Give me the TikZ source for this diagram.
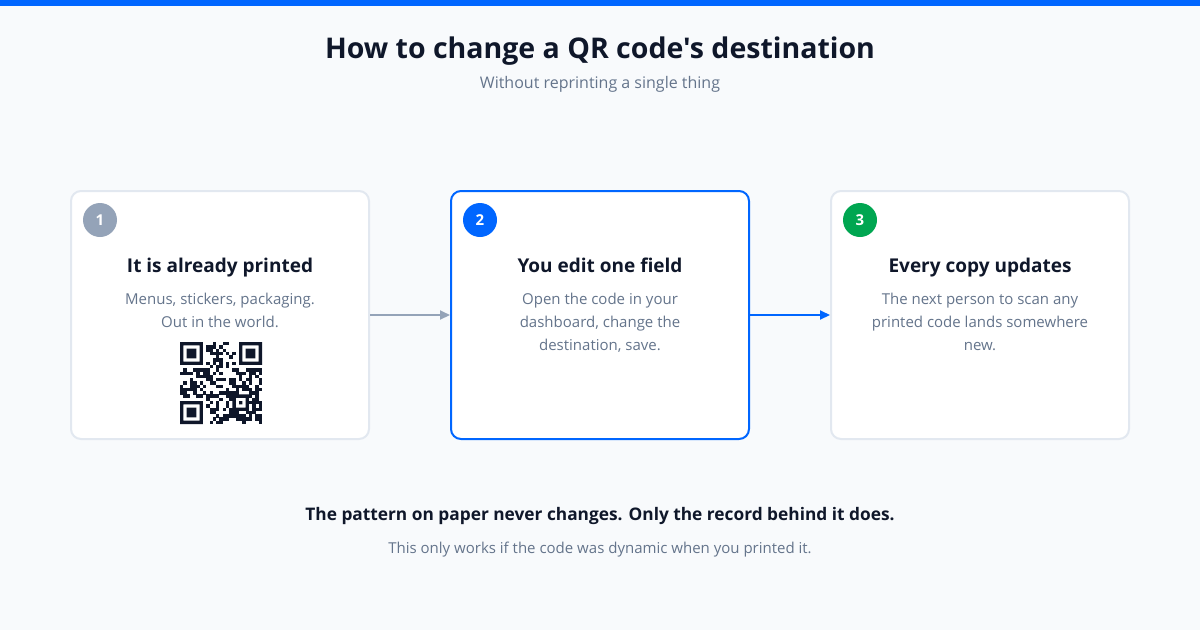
\documentclass[tikz,border=0pt]{standalone}
\usepackage{fontspec}
\newfontfamily\uifont{Open Sans}
\usetikzlibrary{arrows.meta}

\definecolor{pagebg}{HTML}{F8FAFC}
\definecolor{accent}{HTML}{0066FF}
\definecolor{ink}{HTML}{0F172A}
\definecolor{muted}{HTML}{64748B}
\definecolor{cardline}{HTML}{E2E8F0}
\definecolor{stepgray}{HTML}{94A3B8}
\definecolor{stepgreen}{HTML}{00A651}

\begin{document}
\begin{tikzpicture}[x=1pt, y=-1pt,
  card/.style={rectangle, draw=#1, line width=2pt, fill=white,
               minimum width=298pt, minimum height=248pt, rounded corners=10pt},
  badge/.style={circle, fill=#1, minimum size=34pt, inner sep=0pt, text=white,
                font=\uifont\bfseries\fontsize{15}{18}\selectfont},
  heading/.style={font=\uifont\bfseries\fontsize{19}{23}\selectfont, text=ink,
                  anchor=base, inner sep=0pt},
  body/.style={font=\uifont\fontsize{15}{23}\selectfont, text=muted,
               align=center, anchor=north, inner sep=0pt},
  arr/.style={-{Triangle[length=10pt, width=9pt]}, line width=2pt}
]
  \useasboundingbox (0,0) rectangle (1200,630);
  \fill[pagebg] (0,0) rectangle (1200,630);
  \fill[accent] (0,0) rectangle (1200,6);

  % Titre
  \node[font=\uifont\bfseries\fontsize{28.5}{34}\selectfont, text=ink] (title) at (600,51)
    {How to change a QR code's destination};
  \node[font=\uifont\fontsize{16}{20}\selectfont, text=muted] (subtitle) at (600,84)
    {Without reprinting a single thing};

  % Cartes
  \foreach \n/\cx/\edge/\col/\head/\txt in {
      1/220/cardline/stepgray/{It is already printed}/{Menus, stickers, packaging.\\Out in the world.},
      2/600/accent/accent/{You edit one field}/{Open the code in your\\dashboard, change the\\destination, save.},
      3/980/cardline/stepgreen/{Every copy updates}/{The next person to scan any\\printed code lands somewhere\\new.}} {
    \node[card=\edge] (card\n) at (\cx,315) {};
    \node[badge=\col] (badge\n) at (\cx-120,220) {\n};
    \node[heading] (head\n) at (\cx,272) {\head};
    \node[body] (body\n) at (\cx,293) {\txt};
  }

  % Fl`eches
  \draw[arr, stepgray] (card1) -- (card2);
  \draw[arr, accent] (card2) -- (card3);

  % Code QR
  \begin{scope}[shift={(180,342)}, x=3.28pt, y=-3.28pt]
    \foreach \fx/\fy in {0/0, 18/0, 0/18}
      \fill[ink, even odd rule] (\fx,\fy) rectangle ++(7,7)
        (\fx+1,\fy+1) rectangle ++(5,5) (\fx+2,\fy+2) rectangle ++(3,3);
    \fill[ink, even odd rule] (16,16) rectangle ++(5,5)
      (17,17) rectangle ++(3,3) (18,18) rectangle ++(1,1);
    \foreach \k in {8,10,...,16} {
      \fill[ink] (\k,6) rectangle ++(1,1);
      \fill[ink] (6,\k) rectangle ++(1,1);
    }
    \pgfmathsetseed{17}
    \foreach \i in {0,...,24} \foreach \j in {0,...,24} {
      \pgfmathtruncatemacro\qrres{(\i<8 && \j<8) || (\i>16 && \j<8) || (\i<8 && \j>16)
        || (\i>15 && \i<21 && \j>15 && \j<21) || \i==6 || \j==6}
      \ifnum\qrres=0
        \pgfmathtruncatemacro\qrbit{rnd<0.5}
        \ifnum\qrbit=1 \fill[ink] (\i,\j) rectangle ++(1.03,1.03); \fi
      \fi
    }
  \end{scope}

  % Bas de page
  \node[font=\uifont\bfseries\fontsize{17.3}{22}\selectfont, text=ink] (summary) at (600,516)
    {The pattern on paper never changes. Only the record behind it does.};
  \node[font=\uifont\fontsize{15}{18}\selectfont, text=muted] (note) at (600,550)
    {This only works if the code was dynamic when you printed it.};
\end{tikzpicture}
\end{document}
